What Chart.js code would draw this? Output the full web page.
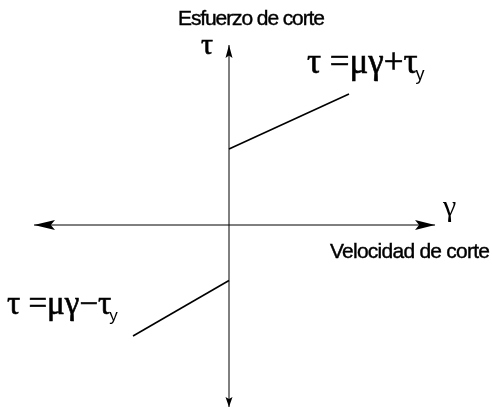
<!DOCTYPE html>
<html>
<head>
<meta charset="utf-8">
<script src="https://cdn.jsdelivr.net/npm/chart.js@4/dist/chart.umd.min.js"></script>
<style>
  html, body { margin: 0; padding: 0; background: #fff; }
  canvas { display: block; }
</style>
</head>
<body>
<canvas id="plot" width="492" height="408"></canvas>
<script>
// Bingham plastic: shear stress vs shear rate, both branches
const upperRate = [0, 1.0];
const upperStress = [0.76, 1.31];
const lowerRate = [-0.8, 0];
const lowerStress = [-1.11, -0.555];

// axis extents (arrow tips)
const rateAxis = [-1.625, 1.717];
const stressAxis = [-1.82, 1.80];

const toPoints = (xs, ys) => xs.map((x, i) => ({ x: x, y: ys[i] }));

const arrowheads = {
  id: 'arrowheads',
  afterDatasetsDraw(chart) {
    const { ctx, scales: { x, y } } = chart;
    const x0 = x.getPixelForValue(0);
    const y0 = y.getPixelForValue(0);
    const head = (tx, ty, dx, dy, len, half) => {
      // dx,dy: unit direction of the arrow
      const bx = tx - dx * len, by = ty - dy * len;
      const nx = -dy, ny = dx;
      ctx.beginPath();
      ctx.moveTo(tx, ty);
      ctx.lineTo(bx + nx * half, by + ny * half);
      ctx.lineTo(tx - dx * len * 0.8, ty - dy * len * 0.8);
      ctx.lineTo(bx - nx * half, by - ny * half);
      ctx.closePath();
      ctx.fill();
    };
    ctx.save();
    ctx.fillStyle = '#000';
    head(x.getPixelForValue(rateAxis[0]), y0, -1, 0, 21, 5);
    head(x.getPixelForValue(rateAxis[1]), y0, 1, 0, 20, 5);
    head(x0, y.getPixelForValue(stressAxis[1]), 0, -1, 13, 3.5);
    head(x0, y.getPixelForValue(stressAxis[0]), 0, 1, 10, 3.5);
    ctx.restore();
  }
};

const labels = {
  id: 'labels',
  afterDraw(chart) {
    const { ctx } = chart;
    ctx.save();
    ctx.fillStyle = '#000';
    ctx.strokeStyle = '#000';
    ctx.textBaseline = 'alphabetic';

    // axis titles
    ctx.font = '21px "Liberation Sans", Arial, sans-serif';
    ctx.lineWidth = 0.4;
    ctx.letterSpacing = '-1.1px';
    ctx.fillText('Esfuerzo de corte', 178, 25);
    ctx.strokeText('Esfuerzo de corte', 178, 25);
    ctx.letterSpacing = '-0.75px';
    ctx.fillText('Velocidad de corte', 330, 258);
    ctx.strokeText('Velocidad de corte', 330, 258);
    ctx.letterSpacing = '0px';

    const formula = (text, px, py, size) => {
      ctx.font = size + 'px "Liberation Serif", "Times New Roman", serif';
      ctx.fillText(text, px, py);
      ctx.lineWidth = 0.6;
      ctx.strokeText(text, px, py);
      const w = ctx.measureText(text).width;
      ctx.font = Math.round(size * 0.5) + 'px "Liberation Sans", Arial, sans-serif';
      ctx.fillText('y', px + w - 2, py + 7);
    };

    // axis symbols
    ctx.font = '30px "Liberation Serif", "Times New Roman", serif';
    ctx.lineWidth = 0.6;
    ctx.fillText('τ', 201, 54);
    ctx.strokeText('τ', 201, 54);
    ctx.fillText('γ', 443, 216);

    formula('τ =μγ+τ', 307, 73, 35);
    formula('τ =μγ−τ', 7, 314, 33);
    ctx.restore();
  }
};

new Chart(document.getElementById('plot'), {
  type: 'scatter',
  data: {
    datasets: [
      {
        data: toPoints(rateAxis, [0, 0]),
        showLine: true, borderColor: '#000', borderWidth: 1, pointRadius: 0
      },
      {
        data: toPoints([0, 0], stressAxis),
        showLine: true, borderColor: '#000', borderWidth: 1, pointRadius: 0
      },
      {
        data: toPoints(upperRate, upperStress),
        showLine: true, borderColor: '#000', borderWidth: 1.6, pointRadius: 0
      },
      {
        data: toPoints(lowerRate, lowerStress),
        showLine: true, borderColor: '#000', borderWidth: 1.6, pointRadius: 0
      }
    ]
  },
  options: {
    responsive: false,
    animation: false,
    layout: { padding: 0 },
    plugins: { legend: { display: false }, tooltip: { enabled: false } },
    scales: {
      x: { type: 'linear', display: false, min: -229 / 120, max: 263 / 120 },
      y: { type: 'linear', display: false, min: -1.83, max: 2.25 }
    }
  },
  plugins: [arrowheads, labels]
});
</script>
</body>
</html>
